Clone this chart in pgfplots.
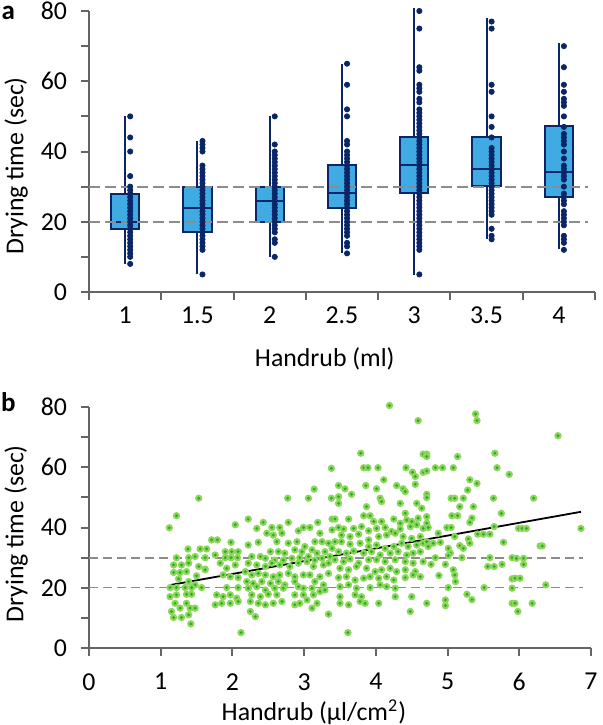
\documentclass[border=0pt]{standalone}
\usepackage{fontspec}
\setmainfont{Carlito}
\usepackage{pgfplots}
\pgfplotsset{compat=1.18}
\usepackage{pgfplotstable}

\definecolor{boxblue}{RGB}{64,170,226}
\definecolor{navy}{RGB}{10,38,104}
\definecolor{axgray}{RGB}{100,100,100}
\definecolor{dashgray}{RGB}{140,140,140}
\definecolor{gLight}{RGB}{140,215,90}
\definecolor{gDark}{RGB}{45,170,45}

\pgfdeclareplotmark{gdot}{%
  \pgfpathcircle{\pgfpointorigin}{1.85pt}\pgfsetfillcolor{gLight}\pgfusepathqfill
  \pgfpathcircle{\pgfpointorigin}{0.8pt}\pgfsetfillcolor{gDark}\pgfusepathqfill}

\newcommand{\lbl}{\fontsize{12.9}{15}\selectfont}

\pgfplotsset{myaxis/.style={scale only axis, axis lines=left,
  axis line style={-, draw=axgray, line width=1pt},
  tick style={draw=axgray, line width=1pt}, tick align=outside,
  major tick length=4pt, minor tick length=4pt,
  tick label style={font=\lbl},
  /pgf/number format/assume math mode=true,
  clip=false, enlargelimits=false,
  ymin=0, ymax=80, ytick={0,20,...,80}, minor ytick={10,30,50,70},
  yticklabel style={xshift=-3.5pt}},
  wh/.style={navy, line width=1pt},
  bx/.style={draw=navy, fill=boxblue, line width=1pt}}

\pgfplotstableread[row sep=\\]{
x y\\
1.53 49.7\\ 1.22 43.9\\ 1.12 39.9\\ 2.04 40.9\\ 1.71 35.9\\ 1.79 35.9\\ 1.98 35.1\\ 1.38 32.9\\ 1.55 32.9\\ 1.64 32.9\\
1.90 32.0\\ 1.99 32.0\\ 2.08 32.0\\ 1.22 30.0\\ 1.39 30.0\\ 1.48 30.4\\ 1.62 30.0\\ 1.76 30.9\\ 1.90 30.0\\ 1.98 30.0\\
2.07 30.0\\ 1.18 27.6\\ 1.29 27.6\\ 1.39 28.2\\ 1.53 27.1\\ 1.62 26.2\\ 1.83 28.2\\ 1.92 26.5\\ 2.04 27.6\\ 1.18 25.1\\
1.27 25.1\\ 1.36 25.4\\ 1.50 24.0\\ 1.62 26.0\\ 1.87 24.3\\ 1.97 23.7\\ 2.08 23.4\\ 1.25 23.0\\ 1.39 22.1\\ 1.48 21.0\\
1.57 20.1\\ 1.13 20.1\\ 1.22 20.1\\ 1.34 20.1\\ 1.43 20.1\\ 1.92 20.1\\ 2.08 20.1\\ 1.13 17.1\\ 1.22 17.7\\ 1.36 17.9\\
1.43 17.9\\ 1.78 17.7\\ 1.87 17.1\\ 1.97 17.7\\ 2.06 16.6\\ 1.20 14.9\\ 1.36 14.9\\ 1.76 14.4\\ 1.85 14.9\\ 1.97 14.9\\
2.08 15.5\\ 1.27 13.3\\ 1.41 13.3\\ 1.48 13.3\\ 1.15 12.2\\ 1.39 11.1\\ 1.18 10.2\\ 1.29 10.2\\ 1.42 8.1\\ 2.12 5.2\\
3.61 5.2\\
3.38 59.6\\ 3.14 52.7\\ 2.77 49.7\\ 3.06 49.7\\ 3.38 49.7\\ 2.22 42.8\\ 2.43 41.7\\ 2.78 41.7\\ 3.19 41.7\\ 3.39 42.8\\
2.34 39.7\\ 2.55 40.0\\ 2.66 40.0\\ 2.92 38.9\\ 2.99 40.0\\ 3.08 40.0\\ 3.22 38.1\\ 3.39 39.2\\ 2.48 38.1\\ 2.57 37.5\\
2.69 38.1\\ 2.36 35.1\\ 2.62 35.3\\ 2.78 34.8\\ 2.90 35.3\\ 3.01 33.7\\ 3.15 35.3\\ 3.25 35.3\\ 3.34 34.8\\ 2.22 34.2\\
2.53 32.0\\ 2.64 32.0\\ 2.73 31.5\\ 2.87 32.6\\ 2.97 32.0\\ 3.11 32.6\\ 3.18 31.5\\ 3.29 32.0\\ 3.39 33.1\\ 2.27 30.4\\
2.39 30.4\\ 2.46 29.8\\ 2.59 29.2\\ 2.71 29.2\\ 2.83 29.8\\ 2.94 30.0\\ 3.06 30.4\\ 3.15 29.2\\ 3.25 29.8\\ 3.36 30.4\\
2.22 28.2\\ 2.34 27.6\\ 2.46 27.1\\ 2.55 28.2\\ 2.66 27.6\\ 2.80 27.1\\ 2.92 28.2\\ 3.04 28.7\\ 3.13 27.1\\ 3.27 27.6\\
3.34 28.2\\ 2.18 25.4\\ 2.27 24.3\\ 2.36 24.8\\ 2.46 24.3\\ 2.57 23.7\\ 2.66 24.3\\ 2.78 24.8\\ 2.87 23.7\\ 2.99 24.3\\
3.08 24.3\\ 3.22 23.7\\ 3.34 24.8\\ 2.20 22.1\\ 2.29 21.5\\ 2.41 22.1\\ 2.53 21.5\\ 2.64 22.1\\ 2.73 21.0\\ 2.87 22.1\\
2.92 20.4\\ 3.15 22.1\\ 3.27 21.0\\ 2.22 19.9\\ 2.34 20.4\\ 2.46 19.3\\ 2.59 19.9\\ 2.71 19.9\\ 2.99 19.9\\ 3.11 19.9\\
3.22 18.8\\ 3.29 19.3\\ 2.27 17.7\\ 2.39 17.1\\ 2.50 17.9\\ 2.62 17.7\\ 2.87 17.7\\ 2.99 17.7\\ 3.13 17.7\\ 2.25 15.5\\
2.36 14.9\\ 2.46 14.4\\ 2.57 14.9\\ 2.69 15.5\\ 2.87 14.4\\ 2.94 14.9\\ 3.04 16.0\\ 3.18 14.9\\ 2.25 12.2\\ 2.32 10.5\\
3.11 13.3\\ 3.34 11.3\\
4.19 80.4\\ 4.59 75.4\\ 3.79 64.6\\ 3.83 59.8\\ 3.89 59.8\\ 4.03 59.8\\ 4.42 59.8\\ 4.51 58.3\\ 4.55 56.9\\ 4.55 54.3\\
4.11 55.8\\ 4.66 64.3\\ 4.66 58.3\\ 3.48 53.9\\ 3.57 52.8\\ 3.66 51.0\\ 3.86 53.9\\ 4.01 52.8\\ 4.29 53.9\\ 4.38 52.8\\
4.41 51.9\\ 4.34 48.0\\ 4.57 48.0\\ 4.64 46.4\\ 3.48 50.2\\ 3.48 48.0\\ 4.06 49.7\\ 4.08 48.6\\ 3.87 46.9\\ 3.83 43.9\\
3.92 43.9\\ 4.41 44.7\\ 4.50 42.0\\ 4.59 43.1\\ 3.43 42.8\\ 3.62 42.8\\ 3.97 42.0\\ 4.08 42.0\\ 4.25 42.8\\ 4.34 41.4\\
4.43 42.5\\ 3.48 40.0\\ 3.55 39.5\\ 3.69 39.7\\ 3.80 40.3\\ 3.90 38.9\\ 4.01 39.7\\ 4.13 40.0\\ 4.22 38.7\\ 4.34 39.5\\
4.48 40.3\\ 4.57 40.9\\ 4.66 39.7\\ 3.52 37.5\\ 3.64 37.0\\ 3.76 37.8\\ 3.90 35.9\\ 4.04 37.0\\ 4.15 37.5\\ 4.27 38.1\\
4.38 37.0\\ 4.50 36.4\\ 4.62 37.0\\ 3.43 35.3\\ 3.52 35.3\\ 3.64 34.5\\ 3.78 34.8\\ 3.90 33.7\\ 4.01 34.2\\ 4.13 33.1\\
4.25 33.7\\ 4.36 34.8\\ 4.45 33.7\\ 4.57 34.2\\ 4.66 34.8\\ 3.48 32.0\\ 3.59 31.5\\ 3.69 32.2\\ 3.83 31.5\\ 3.94 32.0\\
4.06 30.9\\ 4.20 31.5\\ 4.31 32.0\\ 4.43 30.9\\ 4.52 31.5\\ 4.62 32.0\\ 3.43 29.3\\ 3.55 28.7\\ 3.64 29.6\\ 3.76 28.2\\
3.90 29.3\\ 4.01 29.3\\ 4.13 28.7\\ 4.27 29.3\\ 4.41 28.7\\ 4.52 28.2\\ 4.66 28.7\\ 3.50 26.5\\ 3.62 26.0\\ 3.73 27.1\\
3.87 26.5\\ 3.99 25.4\\ 4.08 26.0\\ 4.20 26.5\\ 4.29 25.4\\ 4.41 26.0\\ 4.55 25.4\\ 3.48 23.4\\ 3.59 23.7\\ 3.71 22.6\\
3.83 23.2\\ 3.92 23.7\\ 4.04 23.2\\ 4.15 23.7\\ 4.25 22.6\\ 4.41 23.4\\ 4.52 24.3\\ 4.62 23.7\\ 3.50 20.4\\ 3.62 21.0\\
3.73 19.9\\ 3.92 20.1\\ 4.06 21.0\\ 4.15 20.4\\ 4.27 19.9\\ 3.71 17.7\\ 3.80 17.1\\ 3.50 17.1\\ 4.27 17.1\\ 4.50 17.1\\
3.50 14.9\\ 3.62 14.4\\ 3.78 15.5\\ 3.85 14.9\\ 4.04 14.9\\ 4.48 12.2\\
5.39 77.6\\ 5.41 75.4\\ 4.71 64.3\\ 4.71 63.5\\ 5.14 63.5\\ 5.66 64.6\\ 4.71 58.7\\ 4.83 59.8\\ 4.93 59.8\\ 5.08 59.8\\
5.69 59.8\\ 5.86 57.6\\ 5.31 55.8\\ 5.41 54.6\\ 5.28 52.4\\ 4.71 51.0\\ 4.71 49.9\\ 5.05 49.7\\ 5.10 49.7\\ 5.22 49.7\\
5.64 49.7\\ 5.17 46.9\\ 5.36 46.9\\ 5.06 43.9\\ 5.14 43.9\\ 5.34 43.1\\ 5.31 41.7\\ 5.75 44.7\\ 4.71 43.6\\ 4.71 41.4\\
4.73 40.0\\ 4.99 40.0\\ 5.05 40.0\\ 4.87 38.1\\ 5.10 37.0\\ 5.29 36.2\\ 5.31 34.8\\ 5.42 37.8\\ 5.50 37.8\\ 5.59 37.8\\
5.65 40.3\\ 5.78 35.1\\ 4.71 35.3\\ 4.73 33.7\\ 4.80 34.8\\ 5.01 33.1\\ 5.04 31.5\\ 5.17 34.0\\ 5.22 33.1\\ 4.90 35.1\\
4.83 30.0\\ 5.01 30.7\\ 5.20 30.0\\ 5.59 30.0\\ 5.90 30.0\\ 4.77 27.8\\ 4.97 27.8\\ 5.56 27.1\\ 5.65 27.1\\ 5.76 27.8\\
5.08 26.0\\ 5.10 24.3\\ 5.11 22.1\\ 4.88 24.1\\ 5.90 23.0\\ 5.90 19.9\\ 5.01 20.1\\ 5.51 20.1\\ 5.27 17.9\\ 5.34 16.1\\
4.71 14.9\\ 4.97 16.0\\ 4.97 14.1\\ 5.90 14.9\\
6.54 70.4\\ 6.20 49.7\\ 5.99 39.7\\ 6.04 39.7\\ 6.10 39.7\\ 6.86 39.7\\ 6.29 33.9\\ 6.32 33.9\\ 5.96 29.8\\ 6.06 29.8\\
6.06 27.8\\ 5.94 23.2\\ 6.01 23.2\\ 6.37 21.0\\ 5.94 14.9\\ 6.18 14.9\\ 5.98 12.2\\
}\scatterdata

\begin{document}
\begin{tikzpicture}
\useasboundingbox (0,0) rectangle (301pt,362.5pt);

\begin{axis}[myaxis, at={(44.5pt,216.5pt)}, anchor=south west,
  width=253pt, height=140.5pt,
  xmin=0.5, xmax=7.5, xtick={1,...,7}, xticklabels={1,1.5,2,2.5,3,3.5,4},
  major x tick style={draw=none}, minor xtick={0.5,1.5,...,7.5}]
% whiskers
\addplot[wh] coordinates {(1,8) (1,50)};
\addplot[wh] coordinates {(2,5) (2,43)};
\addplot[wh] coordinates {(3,10) (3,50)};
\addplot[wh] coordinates {(4,11) (4,65)};
\addplot[wh] coordinates {(5,4.8) (5,81)};
\addplot[wh] coordinates {(6,15) (6,78)};
\addplot[wh] coordinates {(7,12.2) (7,71)};
% boxes (lower quartile to upper quartile)
\addplot[bx] coordinates {(0.805,18) (1.195,18) (1.195,28) (0.805,28)} -- cycle;
\addplot[bx] coordinates {(1.805,17) (2.195,17) (2.195,30) (1.805,30)} -- cycle;
\addplot[bx] coordinates {(2.805,20) (3.195,20) (3.195,30) (2.805,30)} -- cycle;
\addplot[bx] coordinates {(3.805,24) (4.195,24) (4.195,36.2) (3.805,36.2)} -- cycle;
\addplot[bx] coordinates {(4.805,28.1) (5.195,28.1) (5.195,44.2) (4.805,44.2)} -- cycle;
\addplot[bx] coordinates {(5.805,30.3) (6.195,30.3) (6.195,44.2) (5.805,44.2)} -- cycle;
\addplot[bx] coordinates {(6.805,27.1) (7.195,27.1) (7.195,47.4) (6.805,47.4)} -- cycle;
% medians
\addplot[wh] coordinates {(0.805,20) (1.195,20)};
\addplot[wh] coordinates {(1.805,24) (2.195,24)};
\addplot[wh] coordinates {(2.805,26) (3.195,26)};
\addplot[wh] coordinates {(3.805,28.3) (4.195,28.3)};
\addplot[wh] coordinates {(4.805,36.2) (5.195,36.2)};
\addplot[wh] coordinates {(5.805,35.1) (6.195,35.1)};
\addplot[wh] coordinates {(6.805,34.1) (7.195,34.1)};
\addplot[dashgray, line width=1pt, dash pattern=on 5.5pt off 2.5pt] coordinates {(0.5,20) (7.4,20)};
\addplot[dashgray, line width=1pt, dash pattern=on 5.5pt off 2.5pt] coordinates {(0.5,30) (7.4,30)};
\addplot[only marks, mark=*, mark size=1.3pt, navy, mark options={draw=none, fill=navy}] coordinates {
(1.07,50)(1.07,44)(1.07,40)(1.07,33)(1.07,30)(1.07,29)(1.07,28)(1.07,27)(1.07,26)(1.07,25)(1.07,24)(1.07,23)(1.07,22)
(1.07,21)(1.07,20)(1.07,19)(1.07,18)(1.07,17)(1.07,16)(1.07,15)(1.07,14)(1.07,13)(1.07,12)(1.07,11)(1.07,10)(1.07,8)
(2.07,43)(2.07,42)(2.07,41)(2.07,40)(2.07,36)(2.07,35)(2.07,34)(2.07,33)(2.07,32)(2.07,31)(2.07,30)(2.07,29)(2.07,28)
(2.07,27)(2.07,26)(2.07,25)(2.07,24)(2.07,23)(2.07,22)(2.07,21)(2.07,20)(2.07,19)(2.07,18)(2.07,17)(2.07,16)(2.07,15)
(2.07,14)(2.07,13)(2.07,12)(2.07,5)
(3.07,50)(3.07,42)(3.07,40)(3.07,39)(3.07,38)(3.07,37)(3.07,36)(3.07,35)(3.07,34)(3.07,33)(3.07,32)(3.07,31)(3.07,30)
(3.07,29)(3.07,28)(3.07,27)(3.07,26)(3.07,25)(3.07,24)(3.07,23)(3.07,22)(3.07,21)(3.07,20)(3.07,19)(3.07,18)(3.07,17)
(3.07,15)(3.07,14)(3.07,10)
(4.07,65)(4.07,59)(4.07,52)(4.07,50)(4.07,43)(4.07,42)(4.07,40)(4.07,39)(4.07,38)(4.07,37)(4.07,36)(4.07,35)(4.07,34)
(4.07,33)(4.07,32)(4.07,31)(4.07,30)(4.07,29)(4.07,28)(4.07,27)(4.07,26)(4.07,25)(4.07,24)(4.07,23)(4.07,22)(4.07,21)
(4.07,20)(4.07,19)(4.07,18)(4.07,17)(4.07,16)(4.07,14)(4.07,13)(4.07,11)
(5.07,80)(5.07,75)(5.07,64)(5.07,63)(5.07,59)(5.07,58)(5.07,57)(5.07,55)(5.07,54)(5.07,52)(5.07,51)(5.07,50)(5.07,49)
(5.07,48)(5.07,47)(5.07,46)(5.07,45)(5.07,44)(5.07,43)(5.07,42)(5.07,41)(5.07,40)(5.07,39)(5.07,38)(5.07,37)(5.07,36)
(5.07,35)(5.07,34)(5.07,33)(5.07,32)(5.07,31)(5.07,30)(5.07,29)(5.07,28)(5.07,27)(5.07,26)(5.07,25)(5.07,24)(5.07,23)
(5.07,22)(5.07,21)(5.07,20)(5.07,19)(5.07,18)(5.07,17)(5.07,16)(5.07,15)(5.07,14)(5.07,13)(5.07,12)(5.07,5)
(6.07,77)(6.07,75)(6.07,59)(6.07,57)(6.07,50)(6.07,47)(6.07,44)(6.07,41)(6.07,40)(6.07,39)(6.07,38)(6.07,37)(6.07,36)
(6.07,35)(6.07,34)(6.07,33)(6.07,32)(6.07,31)(6.07,30)(6.07,29)(6.07,28)(6.07,27)(6.07,26)(6.07,25)(6.07,24)(6.07,23)
(6.07,22)(6.07,18)(6.07,16)(6.07,15)
(7.07,70)(7.07,64)(7.07,59)(7.07,57)(7.07,55)(7.07,54)(7.07,53)(7.07,50)(7.07,47)(7.07,45)(7.07,44)(7.07,43)(7.07,42)
(7.07,40)(7.07,38)(7.07,36)(7.07,35)(7.07,34)(7.07,33)(7.07,32)(7.07,30)(7.07,28)(7.07,27)(7.07,26)(7.07,25)(7.07,23)
(7.07,22)(7.07,21)(7.07,20)(7.07,19)(7.07,16)(7.07,15)(7.07,14)(7.07,12)
};
\node[font=\lbl, rotate=90, anchor=west, inner sep=0pt] at (axis description cs:-0.144,0.132) {Drying time (sec)};
\node[font=\lbl, anchor=center, inner sep=0pt] at (axis description cs:0.466,-0.238) {Handrub (ml)};
\end{axis}

\begin{axis}[myaxis, at={(44.5pt,38.35pt)}, anchor=south west,
  width=251pt, height=120.8pt,
  xmin=0, xmax=7, xtick={0,...,7},
  xticklabel style={yshift=-5pt}]
\addplot[dashgray, line width=0.8pt, dash pattern=on 4.7pt off 2.3pt] coordinates {(0,20.2) (6.89,20.2)};
\addplot[dashgray, line width=0.8pt, dash pattern=on 4.7pt off 2.3pt] coordinates {(0,30) (6.89,30)};
\addplot[only marks, mark=gdot] table[x=x, y=y] {\scatterdata};
\addplot[black, line width=0.9pt] coordinates {(1.12,20.9) (6.86,45.2)};
\node[font=\lbl, rotate=90, anchor=west, inner sep=0pt] at (axis description cs:-0.145,0.105) {Drying time (sec)};
\node[font=\lbl, anchor=center, inner sep=0pt] at (axis description cs:0.448,-0.264) {Handrub (μl/cm\textsuperscript{2})};
\end{axis}

\node[font=\bfseries\fontsize{13.5}{15}\selectfont, inner sep=0pt] at (4.2pt,356.2pt) {a};
\node[font=\bfseries\fontsize{13.5}{15}\selectfont, inner sep=0pt] at (4.2pt,161.2pt) {b};
\end{tikzpicture}
\end{document}
